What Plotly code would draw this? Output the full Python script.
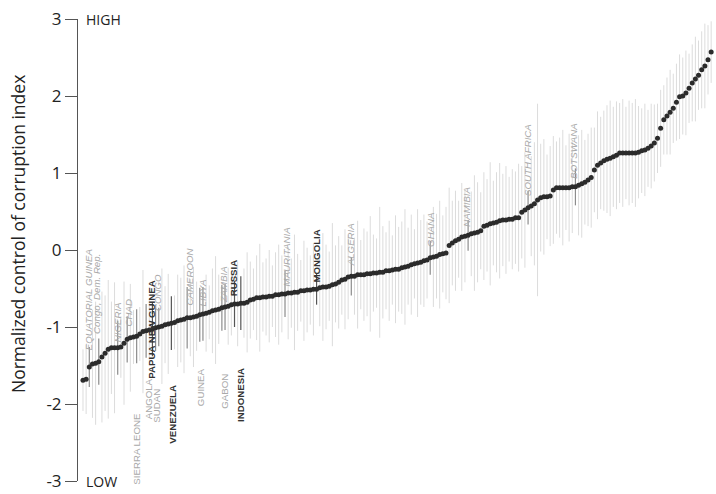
import plotly.graph_objects as go

# --- data: normalized control of corruption index, countries sorted ascending ---
values = [
    -1.69, -1.68, -1.52, -1.48, -1.47, -1.45, -1.39, -1.34, -1.29, -1.27,
    -1.27, -1.27, -1.26, -1.21, -1.16, -1.14, -1.13, -1.12, -1.09, -1.06,
    -1.05, -1.04, -1.03, -1.01, -1.00, -0.99, -0.97, -0.96, -0.95, -0.94,
    -0.92, -0.91, -0.90, -0.88, -0.88, -0.87, -0.86, -0.84, -0.83, -0.82,
    -0.81, -0.79, -0.78, -0.77, -0.75, -0.74, -0.73, -0.71, -0.70, -0.70,
    -0.69, -0.69, -0.68, -0.65, -0.64, -0.62, -0.62, -0.61, -0.61, -0.60,
    -0.60, -0.58, -0.58, -0.57, -0.57, -0.56, -0.56, -0.55, -0.55, -0.53,
    -0.53, -0.52, -0.52, -0.51, -0.51, -0.49, -0.48, -0.48, -0.47, -0.45,
    -0.44, -0.42, -0.39, -0.38, -0.35, -0.34, -0.34, -0.32, -0.32, -0.32,
    -0.31, -0.31, -0.30, -0.30, -0.29, -0.29, -0.27, -0.27, -0.26, -0.25,
    -0.25, -0.23, -0.22, -0.21, -0.19, -0.18, -0.17, -0.16, -0.14, -0.13,
    -0.10, -0.09, -0.08, -0.06, -0.05, -0.04, 0.06, 0.09, 0.12, 0.14,
    0.17, 0.18, 0.19, 0.21, 0.22, 0.23, 0.25, 0.31, 0.32, 0.34,
    0.35, 0.36, 0.38, 0.39, 0.39, 0.40, 0.40, 0.42, 0.42, 0.49,
    0.52, 0.55, 0.57, 0.60, 0.65, 0.68, 0.69, 0.69, 0.70, 0.78,
    0.81, 0.81, 0.81, 0.81, 0.81, 0.82, 0.82, 0.84, 0.86, 0.88,
    0.91, 0.94, 1.04, 1.10, 1.13, 1.16, 1.18, 1.19, 1.21, 1.23,
    1.26, 1.26, 1.26, 1.26, 1.26, 1.26, 1.27, 1.29, 1.30, 1.32,
    1.35, 1.39, 1.45, 1.58, 1.69, 1.74, 1.79, 1.84, 1.92, 1.99,
    2.00, 2.04, 2.10, 2.17, 2.22, 2.27, 2.34, 2.39, 2.47, 2.57,
]

# half-width of the uncertainty range for each country
errors = [
    0.40, 0.45, 0.26, 0.70, 0.80, 0.30, 0.85, 0.75, 0.90, 0.60,
    0.85, 0.35, 0.40, 0.80, 0.30, 0.70, 0.35, 0.35, 0.35, 0.80,
    0.35, 0.40, 0.35, 0.30, 0.25, 0.75, 0.50, 0.65, 0.35, 0.35,
    0.60, 0.55, 0.70, 0.40, 0.50, 0.65, 0.45, 0.35, 0.35, 0.50,
    0.35, 0.55, 0.70, 0.45, 0.30, 0.30, 0.50, 0.40, 0.30, 0.55,
    0.35, 0.45, 0.65, 0.50, 0.40, 0.55, 0.70, 0.45, 0.50, 0.60,
    0.40, 0.55, 0.65, 0.50, 0.30, 0.60, 0.45, 0.75, 0.50, 0.40,
    0.65, 0.55, 0.45, 0.60, 0.20, 0.50, 0.70, 0.55, 0.45, 0.80,
    0.50, 0.60, 0.45, 0.65, 0.55, 0.25, 0.50, 0.70, 0.45, 0.60,
    0.55, 0.75, 0.50, 0.45, 0.85, 0.60, 0.50, 0.65, 0.45, 0.70,
    0.55, 0.60, 0.75, 0.50, 0.65, 0.45, 0.70, 0.55, 0.60, 0.50,
    0.22, 0.65, 0.55, 0.70, 0.50, 0.60, 0.75, 0.55, 0.65, 0.50,
    0.70, 0.60, 0.20, 0.55, 0.75, 0.65, 0.50, 0.70, 0.60, 0.80,
    0.55, 0.65, 0.75, 0.60, 0.70, 0.55, 0.65, 0.60, 0.70, 0.60,
    0.75, 0.22, 0.65, 0.80, 1.25, 0.70, 0.75, 0.55, 0.65, 0.70,
    0.60, 0.65, 0.75, 0.55, 0.70, 0.60, 0.24, 0.65, 0.70, 0.55,
    0.60, 0.65, 0.55, 0.70, 0.60, 0.65, 0.70, 0.75, 0.65, 0.70,
    0.65, 0.70, 0.60, 0.68, 0.65, 0.70, 0.60, 0.55, 0.60, 0.50,
    0.55, 0.50, 0.45, 0.50, 0.45, 0.50, 0.55, 0.45, 0.50, 0.55,
    0.50, 0.55, 0.45, 0.50, 0.55, 0.45, 0.50, 0.55, 0.45, 0.40,
]

# highlighted countries: name, rank index, emphasis
countries = ["EQUATORIAL GUINEA", "Congo, Dem. Rep.", "NIGERIA", "CHAD", "SIERRA LEONE",
             "ANGOLA", "PAPUA NEW GUINEA", "SUDAN", "CONGO", "VENEZUELA", "CAMEROON",
             "GUINEA", "LIBYA", "ZAMBIA", "GABON", "RUSSIA", "INDONESIA", "MAURITANIA",
             "MONGOLIA", "ALGERIA", "GHANA", "NAMIBIA", "SOUTH AFRICA", "BOTSWANA"]
country_rank = [2, 5, 11, 14, 17, 20, 22, 23, 24, 28, 33, 37, 38, 44, 45, 48, 50, 64,
                74, 85, 110, 122, 141, 156]
country_bold = [False, False, False, False, False, False, True, False, False, True, False,
                False, False, False, False, True, True, False, True, False, False, False,
                False, False]

tick_vals = [-3, -2, -1, 0, 1, 2, 3]
tick_text = ["-3", "-2", "-1", "0", "1", "2", "3"]

# label placement (layout only): side and anchor level
label_side = ["top", "top", "top", "top", "bottom", "bottom", "top", "bottom", "top", "bottom",
              "top", "bottom", "top", "top", "bottom", "top", "bottom", "top", "top", "top",
              "top", "top", "top", "top"]
label_level = [-1.32, -1.10, -1.21, -1.01, -2.10, -1.66, -1.69, -1.79, -0.81, -1.73, -0.74,
               -1.52, -0.74, -0.71, -1.60, -0.61, -1.52, -0.48, -0.43, -0.23, 0.03, 0.29,
               0.69, 0.91]
label_dx = [-0.4, -0.5, -0.2, 0.3, 0.1, 0.6, -0.1, 0.4, -0.2, 0.5, 0.6,
            0.1, 0.0, 0.4, 0.0, -0.2, -0.3, 0.3, 0.1, -0.4, 0.0, -0.3, 0.0, -0.7]

assert len(values) == len(errors)
n = len(values)
xs = list(range(n))

fig = go.Figure()

# light uncertainty bars for all countries
lx, ly = [], []
for i, (v, e) in enumerate(zip(values, errors)):
    if i in country_rank:
        continue
    lx += [i, i, None]
    ly += [v - e, v + e, None]
fig.add_trace(go.Scatter(x=lx, y=ly, mode="lines",
                         line=dict(color="#dcdcdc", width=1), hoverinfo="skip",
                         showlegend=False))

# darker bars for highlighted countries
for bold in (False, True):
    dx, dy = [], []
    for r, b in zip(country_rank, country_bold):
        if b != bold:
            continue
        dx += [r, r, None]
        dy += [values[r] - errors[r], values[r] + errors[r], None]
    fig.add_trace(go.Scatter(x=dx, y=dy, mode="lines",
                             line=dict(color="#555555" if bold else "#8c8c8c", width=1.2),
                             hoverinfo="skip", showlegend=False))

# the point estimates
fig.add_trace(go.Scatter(x=xs, y=values, mode="markers",
                         marker=dict(color="#2b2b2b", size=5, line=dict(width=0)),
                         showlegend=False, cliponaxis=False))

annotations = []
for name, r, b, side, lvl, ddx in zip(countries, country_rank, country_bold,
                                     label_side, label_level, label_dx):
    txt = f"<b>{name}</b>" if b else name
    annotations.append(dict(
        x=r + ddx, y=lvl, xref="x", yref="y", text=txt, showarrow=False,
        textangle=-90, xanchor="center",
        yanchor="bottom" if side == "top" else "top",
        font=dict(family="Liberation Sans, Arial, sans-serif", size=9.7,
                  color="#333333" if b else "#a9a9a9",
                  style="italic" if (side == "top" and not b) else "normal"),
        borderpad=0,
    ))

annotations.append(dict(x=-0.094, y=0.535, xref="paper", yref="paper",
                        text="Normalized control of corruption index", showarrow=False,
                        textangle=-90, xanchor="center", yanchor="middle",
                        font=dict(family="Open Sans, sans-serif", size=17.5, color="#222222")))
annotations.append(dict(x=0.009, y=3, xref="paper", yref="y", text="HIGH", showarrow=False,
                        xanchor="left", yanchor="middle",
                        font=dict(family="Open Sans, sans-serif", size=14, color="#222222")))
annotations.append(dict(x=0.009, y=-3, xref="paper", yref="y", text="LOW", showarrow=False,
                        xanchor="left", yanchor="middle",
                        font=dict(family="Open Sans, sans-serif", size=14, color="#222222")))

fig.update_layout(
    width=716, height=494,
    margin=dict(l=78, r=2, t=19, b=13),
    paper_bgcolor="white", plot_bgcolor="white",
    xaxis=dict(visible=False, range=[-1.58, 199.9]),
    yaxis=dict(range=[-3, 3], tickvals=tick_vals, ticktext=tick_text,
               ticks="outside", ticklen=12, tickcolor="#555555", tickwidth=1,
               showline=True, linecolor="#555555", linewidth=1,
               showgrid=False, zeroline=False,
               tickfont=dict(family="Open Sans, sans-serif", size=17, color="#222222")),
    annotations=annotations,
    showlegend=False,
)

fig.write_html("out.html", config={"displayModeBar": False},
               post_script="document.body.style.margin='0';document.body.style.overflow='hidden';")
